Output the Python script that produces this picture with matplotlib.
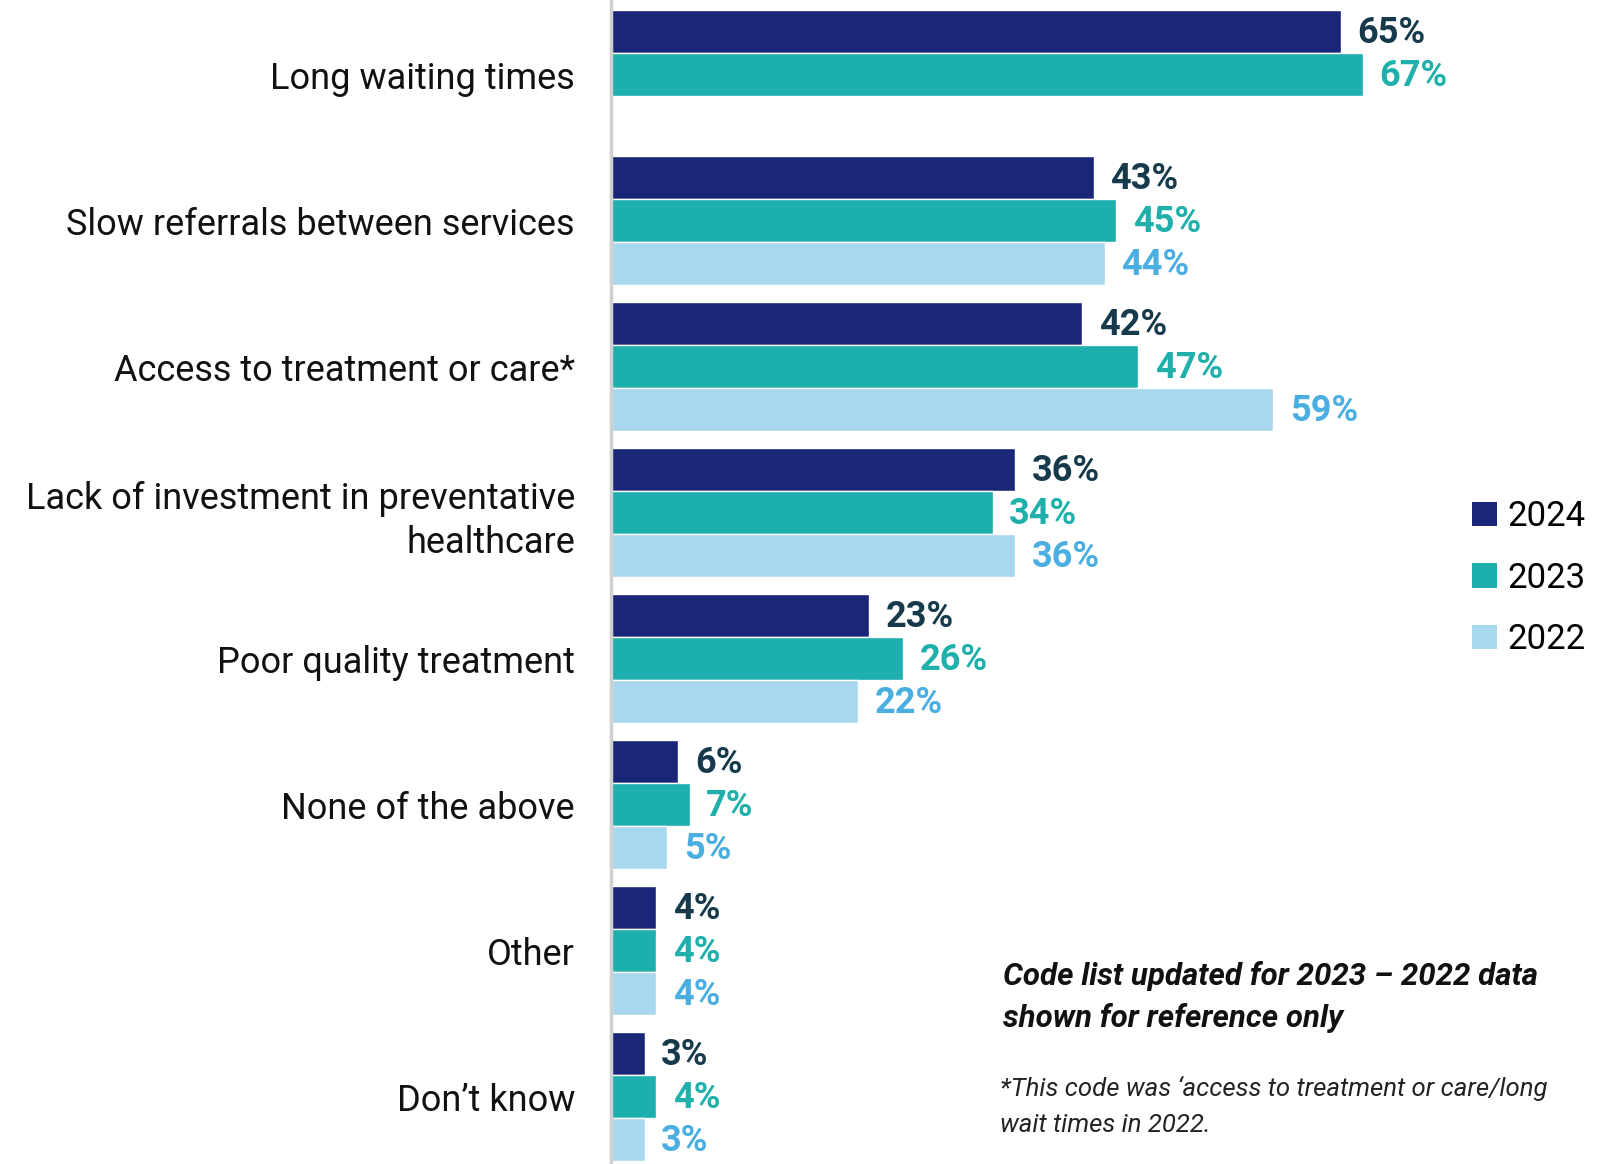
import numpy as np
import matplotlib
matplotlib.use("Agg")
import matplotlib.pyplot as plt
from matplotlib.patches import Patch

plt.rcParams['font.family'] = ['Roboto', 'DejaVu Sans']

categories = [
    "Long waiting times",
    "Slow referrals between services",
    "Access to treatment or care*",
    "Lack of investment in preventative\nhealthcare",
    "Poor quality treatment",
    "None of the above",
    "Other",
    "Don\u2019t know",
]
years = ["2024", "2023", "2022"]
values_2024 = [65, 43, 42, 36, 23, 6, 4, 3]
values_2023 = [67, 45, 47, 34, 26, 7, 4, 4]
values_2022 = [None, 44, 59, 36, 22, 5, 4, 3]

bar_colors = ["#1a2678", "#1daeae", "#a8d8ee"]
label_colors = ["#163a4c", "#1fb0ab", "#4aaee0"]

fig = plt.figure(figsize=(16.03, 11.64), dpi=100)
ax = fig.add_axes([611 / 1603, 0.0, (1400 - 611) / 1603, 1.0])

h = 0.294
y = np.arange(len(categories))
series = [values_2024, values_2023, values_2022]
for k, vals in enumerate(series):
    offset = (k - 1) * h
    for i, v in enumerate(vals):
        if v is None:
            continue
        ax.barh(y[i] + offset, v, height=h, color=bar_colors[k],
                edgecolor="white", linewidth=1.0)
        ax.annotate(f"{v}%", (v, y[i] + offset), xytext=(12, -1),
                    textcoords="offset points", va="center", ha="left",
                    fontsize=26, fontweight="bold", color=label_colors[k],
                    annotation_clip=False)

ax.set_xlim(0, 70.3)
ax.set_ylim(7.461, -0.512)
ax.set_yticks(y)
ax.set_yticklabels(categories, fontsize=26, color="#111111",
                   ha="right", linespacing=1.3)
ax.tick_params(axis="y", length=0, pad=26)
ax.set_xticks([])
for s in ["top", "right", "bottom"]:
    ax.spines[s].set_visible(False)
ax.spines["left"].set_color("#d0d0d0")
ax.spines["left"].set_linewidth(2.5)

handles = [Patch(facecolor=c, label=yr) for c, yr in zip(bar_colors, years)]
fig.legend(handles=handles, loc="center left", bbox_to_anchor=(1441 / 1603, 1 - 578 / 1164),
           frameon=False, fontsize=25, handlelength=0.7, handleheight=0.7,
           handletextpad=0.3, labelspacing=0.82)

fig.text(1003 / 1603, 1 - 976 / 1164, "Code list updated for 2023 \u2013 2022 data",
         fontsize=22.5, fontweight="bold", style="italic", va="center", color="#111111")
fig.text(1003 / 1603, 1 - 1018 / 1164, "shown for reference only",
         fontsize=22.5, fontweight="bold", style="italic", va="center", color="#111111")
fig.text(1000 / 1603, 1 - 1088 / 1164, "*This code was \u2018access to treatment or care/long",
         fontsize=18.5, style="italic", va="center", color="#222222")
fig.text(1000 / 1603, 1 - 1125 / 1164, "wait times in 2022.",
         fontsize=18.5, style="italic", va="center", color="#222222")

fig.savefig("out.png", dpi=100, facecolor="white")
